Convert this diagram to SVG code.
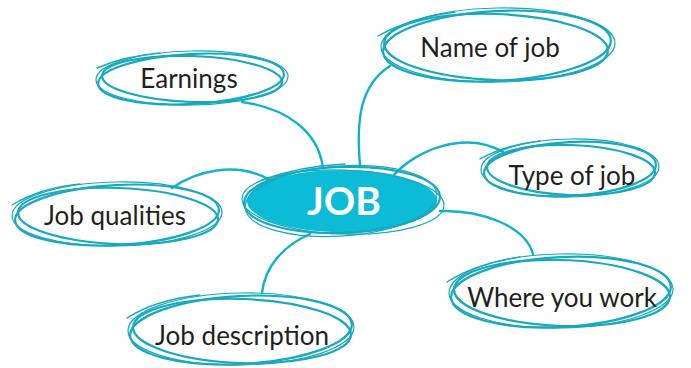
<svg xmlns="http://www.w3.org/2000/svg" width="691" height="368" viewBox="0 0 691 368">
<style>
.sk{fill:none;stroke:#17a9be;stroke-width:2.2}
.sk2{fill:none;stroke:#17a9be;stroke-width:1.2}
.tail{fill:none;stroke:#17a9be;stroke-width:1.4;stroke-linecap:round}
.con{fill:none;stroke:#12b3ca;stroke-width:2.4;stroke-linecap:round}
.lbl{font-family:Lato,"Open Sans",sans-serif;font-size:26px;fill:#231f20;text-anchor:middle}
.main{font-family:Lato,"Open Sans",sans-serif;font-size:39px;font-weight:700;fill:#ffffff;text-anchor:middle}
</style>
<rect width="691" height="368" fill="#ffffff"/>
<g id="connectors">
<path class="con" d="M242,102 C285,108 318,130 323,168"/>
<path class="con" d="M172,188 C195,172 235,160 270,180"/>
<path class="con" d="M390,66 C360,85 356,120 360,165"/>
<path class="con" d="M392,177 C415,150 465,130 503,152"/>
<path class="con" d="M440,211 C480,210 525,225 533,254"/>
<path class="con" d="M310,234 C285,245 265,265 262,293"/>
</g>
<g id="node-job">
<ellipse cx="342" cy="201" rx="95" ry="31" fill="#0cbbd6"/>
<ellipse class="sk" cx="342" cy="200" rx="98" ry="33" transform="rotate(-2 342 200)"/>
<ellipse class="sk2" cx="343" cy="202" rx="101" ry="32" transform="rotate(2 343 202)"/>
<ellipse class="sk2" cx="341" cy="201" rx="96" ry="35" transform="rotate(-4 341 201)"/>
<path class="tail" d="M262,180 Q300,166 345,164"/>
<text class="main" x="344" y="215">JOB</text>
</g>
<g id="node-name">
<ellipse class="sk" cx="497" cy="46" rx="114" ry="35" transform="rotate(-3 497 46)"/>
<ellipse class="sk" cx="496" cy="47" rx="112" ry="33" transform="rotate(2 496 47)"/>
<ellipse class="sk2" cx="498" cy="45" rx="117" ry="37" transform="rotate(-1 498 45)"/>
<path class="tail" d="M378,36 Q410,18 455,12"/>
<text class="lbl" x="490" y="57">Name of job</text>
</g>
<g id="node-earnings">
<ellipse class="sk" cx="191" cy="79" rx="93" ry="25" transform="rotate(-3 191 79)"/>
<ellipse class="sk" cx="192" cy="79" rx="90" ry="23" transform="rotate(2 192 79)"/>
<ellipse class="sk2" cx="192" cy="78" rx="96" ry="27" transform="rotate(-1 192 78)"/>
<path class="tail" d="M97,68 Q125,56 160,53"/>
<text class="lbl" x="189" y="88">Earnings</text>
</g>
<g id="node-type">
<ellipse class="sk" cx="570" cy="169" rx="86" ry="27" transform="rotate(-3 570 169)"/>
<ellipse class="sk" cx="571" cy="170" rx="84" ry="25" transform="rotate(2 571 170)"/>
<ellipse class="sk2" cx="570" cy="168" rx="89" ry="29" transform="rotate(-1 570 168)"/>
<path class="tail" d="M480,159 Q505,145 540,141"/>
<text class="lbl" x="572" y="185">Type of job</text>
</g>
<g id="node-qualities">
<ellipse class="sk" cx="117" cy="215" rx="102" ry="30" transform="rotate(-3 117 215)"/>
<ellipse class="sk" cx="118" cy="216" rx="100" ry="28" transform="rotate(2 118 216)"/>
<ellipse class="sk2" cx="117" cy="214" rx="105" ry="32" transform="rotate(-1 117 214)"/>
<path class="tail" d="M12,205 Q40,188 80,184"/>
<text class="lbl" x="115" y="225">Job qualities</text>
</g>
<g id="node-where">
<ellipse class="sk" cx="561" cy="292" rx="110" ry="35" transform="rotate(-3 561 292)"/>
<ellipse class="sk" cx="562" cy="293" rx="108" ry="33" transform="rotate(2 562 293)"/>
<ellipse class="sk2" cx="561" cy="291" rx="112" ry="37" transform="rotate(-1 561 291)"/>
<path class="tail" d="M447,282 Q475,264 520,257"/>
<text class="lbl" x="562" y="307">Where you work</text>
</g>
<g id="node-desc">
<ellipse class="sk" cx="241" cy="330" rx="111" ry="34" transform="rotate(-3 241 330)"/>
<ellipse class="sk" cx="242" cy="331" rx="109" ry="32" transform="rotate(2 242 331)"/>
<ellipse class="sk2" cx="241" cy="329" rx="113" ry="36" transform="rotate(-1 241 329)"/>
<path class="tail" d="M127,318 Q155,300 200,295"/>
<text class="lbl" x="242" y="345">Job description</text>
</g>
</svg>
